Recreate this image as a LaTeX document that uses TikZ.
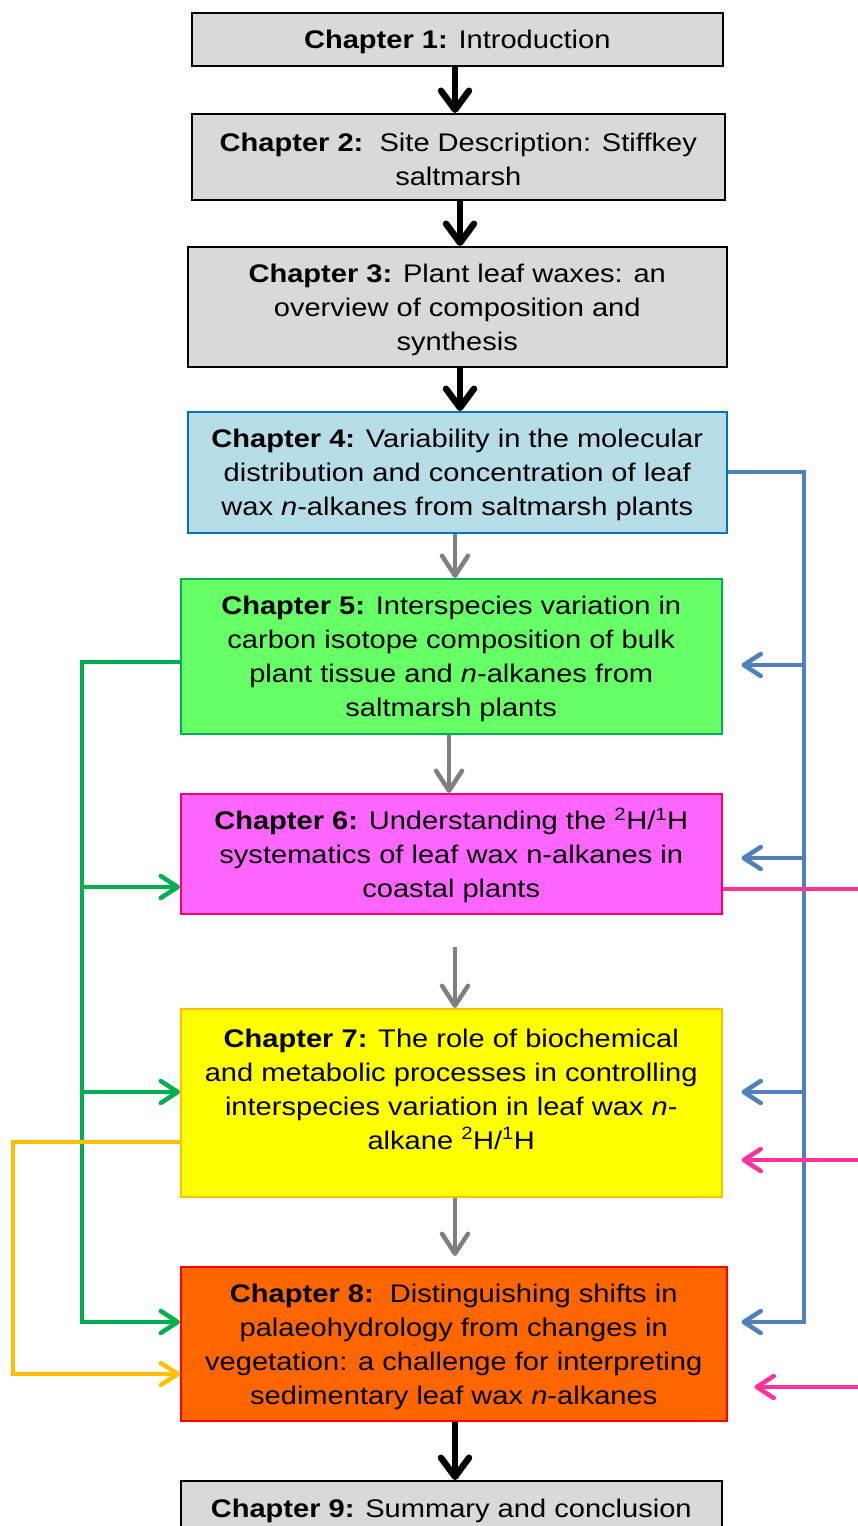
\documentclass[tikz,border=0pt]{standalone}
\usepackage{fontspec}
\setmainfont{Liberation Sans}[FakeStretch=1.14]
\usetikzlibrary{arrows.meta,calc}
\definecolor{boxgray}{HTML}{D9D9D9}
\definecolor{b4fill}{HTML}{B7DEE8}
\definecolor{b4line}{HTML}{0070C0}
\definecolor{b5fill}{HTML}{66FF66}
\definecolor{b5line}{HTML}{00B050}
\definecolor{b6fill}{HTML}{FF66FF}
\definecolor{b6line}{HTML}{FF0066}
\definecolor{b7fill}{HTML}{FFFF00}
\definecolor{b7line}{HTML}{FFC000}
\definecolor{b8fill}{HTML}{FF6600}
\definecolor{b8line}{HTML}{FF0000}
\definecolor{cblue}{HTML}{4F81BD}
\definecolor{cgreen}{HTML}{00B050}
\definecolor{cpink}{HTML}{FF3399}
\definecolor{cyellow}{HTML}{FFC000}
\definecolor{cgray}{HTML}{808080}
\newcommand\toppad{\rule{0pt}{24.5pt}}
\tikzset{
  chapbox/.style={draw, line width=1.5pt, anchor=north west, inner sep=0pt, align=center,
    font=\fontsize{25.5pt}{34pt}\selectfont},
  blkarrow/.style={line width=6.5pt, -{Straight Barb[length=19pt,width=28pt,round]}},
  grayarrow/.style={cgray, line width=4.5pt, -{Straight Barb[length=20pt,width=26pt,round]}},
  link/.style={line width=4.5pt},
  linkarrow/.style={line width=4.5pt, -{Straight Barb[length=17pt,width=22pt,round]}},
}
\begin{document}
\begin{tikzpicture}[x=1pt,y=-1pt]
\useasboundingbox (0,0) rectangle (858,1526);
\clip (0,0) rectangle (858,1526);

% boxes
\node[chapbox, fill=boxgray, minimum width=531pt, minimum height=53pt] (b1) at (191,12)
  {\toppad\textbf{Chapter 1:} Introduction};
\node[chapbox, fill=boxgray, minimum width=533pt, minimum height=86pt] (b2) at (191,113)
  {\toppad\textbf{Chapter 2:}\ \ Site Description: Stiffkey\\saltmarsh};
\node[chapbox, fill=boxgray, minimum width=539pt, minimum height=120pt] (b3) at (187,246)
  {\toppad\textbf{Chapter 3:} Plant leaf waxes: an\\overview of composition and\\synthesis};
\node[chapbox, fill=b4fill, draw=b4line, minimum width=539pt, minimum height=121pt] (b4) at (187,411)
  {\toppad\textbf{Chapter 4:} Variability in the molecular\\distribution and concentration of leaf\\wax \textit{n}-alkanes from saltmarsh plants};
\node[chapbox, fill=b5fill, draw=b5line, minimum width=541pt, minimum height=155pt] (b5) at (180,578)
  {\toppad\textbf{Chapter 5:} Interspecies variation in\\carbon isotope composition of bulk\\plant tissue and \textit{n}-alkanes from\\saltmarsh plants};
\node[chapbox, fill=b6fill, draw=b6line, minimum width=541pt, minimum height=120pt] (b6) at (180,793)
  {\toppad\textbf{Chapter 6:} Understanding the \textsuperscript{2}H/\textsuperscript{1}H\\systematics of leaf wax n-alkanes in\\coastal plants};
\node[chapbox, fill=b7fill, draw=b7line, minimum width=541pt, minimum height=188pt] (b7) at (180,1008)
  {\toppad\textbf{Chapter 7:} The role of biochemical\\and metabolic processes in controlling\\interspecies variation in leaf wax \textit{n}-\\alkane \textsuperscript{2}H/\textsuperscript{1}H\\\mbox{}};
\node[chapbox, fill=b8fill, draw=b8line, minimum width=546pt, minimum height=154pt] (b8) at (180,1266)
  {\toppad\textbf{Chapter 8:}\ \ Distinguishing shifts in\\palaeohydrology from changes in\\vegetation: a challenge for interpreting\\sedimentary leaf wax \textit{n}-alkanes};
\node[chapbox, fill=boxgray, minimum width=541pt, minimum height=55pt] (b9) at (180,1480)
  {\toppad\textbf{Chapter 9:} Summary and conclusion};

% main flow arrows
\draw[blkarrow] (b1.south -| 455,0) -- (b2.north -| 455,0);
\draw[blkarrow] (b2.south -| 460,0) -- (b3.north -| 460,0);
\draw[blkarrow] (b3.south -| 460,0) -- (b4.north -| 460,0);
\draw[grayarrow] (b4.south -| 455,0) -- (b5.north -| 455,0);
\draw[grayarrow] (b5.south -| 449,0) -- (b6.north -| 449,0);
\coordinate (g6s) at (455,947);
\draw[grayarrow] (g6s) -- (b7.north -| 455,0);
\coordinate (g8n) at (455,1256);
\draw[grayarrow] (b7.south -| 455,0) -- (g8n);
\draw[blkarrow] (b8.south -| 455,0) -- (b9.north -| 455,0);

% blue feedback from chapter 4
\coordinate (bt) at (804,472);
\coordinate (bb) at (804,1322);
\draw[cblue, link] (b4.east |- bt) -- (bt) -- (bb);
\draw[cblue, linkarrow] ([xshift=2.25pt]bb) -- ([xshift=14pt]b8.east |- bb);
\draw[cblue, linkarrow] (804,665) -- ([xshift=19pt]b5.east |- 0,665);
\draw[cblue, linkarrow] (804,858) -- ([xshift=19pt]b6.east |- 0,858);
\draw[cblue, linkarrow] (804,1092) -- ([xshift=19pt]b7.east |- 0,1092);

% green feedback from chapter 5
\coordinate (gt) at (82,662);
\coordinate (gb) at (82,1322);
\draw[cgreen, link] (b5.west |- gt) -- (gt) -- (gb);
\draw[cgreen, linkarrow] ([xshift=-2.25pt]gb) -- (b8.west |- gb);
\draw[cgreen, linkarrow] (82,887) -- (b6.west |- 0,887);
\draw[cgreen, linkarrow] (82,1092) -- (b7.west |- 0,1092);

% pink from chapter 6
\coordinate (pr) at (860,889);
\draw[cpink, link] (b6.east |- pr) -- (pr);
\coordinate (p7) at (860,1160);
\coordinate (p8) at (860,1387);
\draw[cpink, linkarrow] (p7) -- ([xshift=19pt]b7.east |- p7);
\draw[cpink, linkarrow] (p8) -- ([xshift=27pt]b8.east |- p8);

% yellow from chapter 7
\coordinate (yt) at (13,1142);
\coordinate (yb) at (13,1374);
\draw[cyellow, link] (b7.west |- yt) -- (yt) -- (yb);
\draw[cyellow, linkarrow] ([xshift=-2.25pt]yb) -- (b8.west |- yb);
\end{tikzpicture}
\end{document}
